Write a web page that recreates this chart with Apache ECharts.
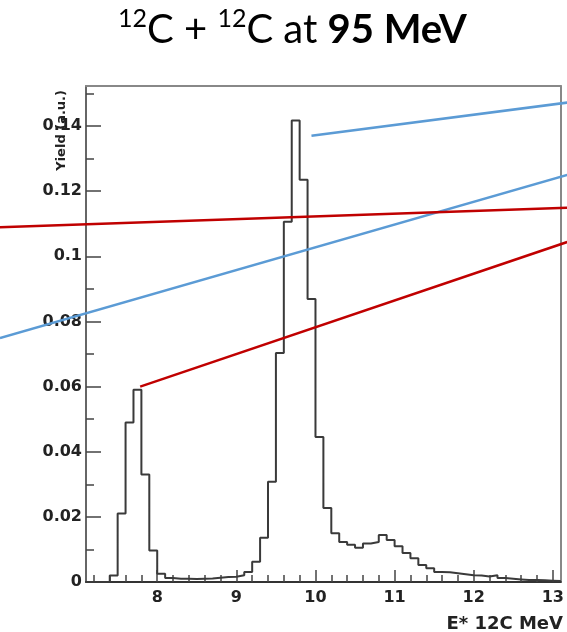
<!DOCTYPE html>
<html>
<head>
<meta charset="utf-8">
<title>12C + 12C at 95 MeV</title>
<script src="https://cdn.jsdelivr.net/npm/echarts@6.0.0/dist/echarts.min.js"></script>
<style>
  html, body { margin: 0; padding: 0; background: #fff; }
  #chart { width: 567px; height: 632px; }
</style>
</head>
<body>
<div id="chart"></div>
<script>
// histogram bin edges (MeV), one more edge than yields
const binEdges = [
  7.1, 7.2, 7.3, 7.4, 7.5, 7.6, 7.7, 7.8, 7.9, 8.0,
  8.1, 8.2, 8.3, 8.4, 8.5, 8.6, 8.7, 8.8, 8.9, 9.0,
  9.1, 9.2, 9.3, 9.4, 9.5, 9.6, 9.7, 9.8, 9.9, 10.0,
  10.1, 10.2, 10.3, 10.4, 10.5, 10.6, 10.7, 10.8, 10.9, 11.0,
  11.1, 11.2, 11.3, 11.4, 11.5, 11.6, 11.7, 11.8, 11.9, 12.0,
  12.1, 12.2, 12.3, 12.4, 12.5, 12.6, 12.7, 12.8, 12.9, 13.0,
  13.1
]
// yield of each bin (a.u.)
const yields = [
  0, 0, 0, 0.002, 0.021, 0.049, 0.059, 0.033, 0.0097, 0.0025,
  0.0012, 0.0010, 0.0010, 0.0009, 0.0010, 0.0011, 0.0013, 0.0015, 0.0016, 0.0021,
  0.0031, 0.0062, 0.0136, 0.0308, 0.0703, 0.1106, 0.1417, 0.1235, 0.0869, 0.0445,
  0.0227, 0.0150, 0.0123, 0.0114, 0.0105, 0.0118, 0.0123, 0.0144, 0.0129, 0.0110,
  0.0089, 0.0073, 0.0052, 0.0042, 0.0031, 0.0030, 0.0027, 0.0024, 0.0021, 0.0020,
  0.0017, 0.0021, 0.0012, 0.0010, 0.0008, 0.0006, 0.0006, 0.0005, 0.0004, 0.0003
]
const xMajorTicks = [8, 9, 10, 11, 12, 13]
const xMinorTicks = [
  7.2, 7.4, 7.6, 7.8, 8.2, 8.4, 8.6, 8.8, 9.2, 9.4, 9.6, 9.8,
  10.2, 10.4, 10.6, 10.8, 11.2, 11.4, 11.6, 11.8, 12.2, 12.4, 12.6, 12.8
]
const yMajorTicks = [0, 0.02, 0.04, 0.06, 0.08, 0.1, 0.12, 0.14]
const yMinorTicks = [0.01, 0.03, 0.05, 0.07, 0.09, 0.11, 0.13, 0.15]

// pointer lines drawn over the slide, in (E*, yield) coordinates
const bluePointerTop = [[9.93, 0.137], [13.14, 0.1472]]
const bluePointerLow = [[6.02, 0.0749], [13.14, 0.125]]
const redPointerTop = [[6.02, 0.1089], [13.14, 0.1149]]
const redPointerLow = [[7.78, 0.06], [13.14, 0.1044]]

const W = 567
const plot = { left: 86, top: 86, right: 3, bottom: 50 }
const xRange = { min: 7.1, max: 13.1 }
const yRange = { min: 0, max: 0.1523 }
// the pointers run to the page edges, so they get a full-width grid
// whose x scale is the plot's scale stretched over the margins
const mevPerPx = (xRange.max - xRange.min) / (W - plot.left - plot.right)
const wideRange = {
  min: xRange.min - plot.left * mevPerPx,
  max: xRange.max + plot.right * mevPerPx
}

const tickFont = { fontFamily: 'DejaVu Sans', fontWeight: 'bold', fontSize: 16, color: '#222' }
const tickLine = { color: '#444', width: 1.5 }

// one axis that only draws a line and/or ticks
const bareAxis = (extra) => Object.assign({
  type: 'value',
  axisLine: { show: false, onZero: false },
  axisTick: { show: false },
  axisLabel: { show: false },
  splitLine: { show: false }
}, extra)

const histData = binEdges.map((e, i) => [e, yields[Math.min(i, yields.length - 1)]])

const pointer = (data, color) => ({
  type: 'line',
  data: data,
  xAxisIndex: 3,
  yAxisIndex: 3,
  symbol: 'none',
  clip: false,
  silent: true,
  z: 4,
  lineStyle: { color: color, width: 2.5 }
})

const chart = echarts.init(document.getElementById('chart'))
chart.setOption({
  animation: false,
  backgroundColor: '#fff',
  title: {
    text: '{sup|12}{n|C + }{sup|12}{n|C at }{b|95 MeV}',
    left: 118,
    top: 6,
    padding: 0,
    textStyle: {
      rich: {
        n: { fontFamily: 'Lato', fontWeight: 'normal', fontSize: 40, lineHeight: 48, color: '#000' },
        b: { fontFamily: 'Lato', fontWeight: 'bold', fontSize: 40, lineHeight: 48, color: '#000' },
        sup: { fontFamily: 'Lato', fontWeight: 'normal', fontSize: 25, lineHeight: 25, verticalAlign: 'top', color: '#000' }
      }
    }
  },
  grid: [
    plot,
    { left: 0, right: 0, top: plot.top, bottom: plot.bottom }
  ],
  xAxis: [
    bareAxis(Object.assign({
      position: 'bottom',
      axisLine: { show: true, onZero: false, lineStyle: { color: '#333', width: 2 } },
      axisTick: { show: true, inside: true, length: 12, customValues: xMajorTicks, lineStyle: tickLine },
      axisLabel: Object.assign({ show: true, margin: 8, customValues: xMajorTicks }, tickFont)
    }, xRange)),
    bareAxis(Object.assign({
      position: 'bottom',
      axisTick: { show: true, inside: true, length: 7, customValues: xMinorTicks, lineStyle: tickLine }
    }, xRange)),
    bareAxis(Object.assign({
      position: 'top',
      axisLine: { show: true, onZero: false, lineStyle: { color: '#888', width: 2 } }
    }, xRange)),
    bareAxis(Object.assign({ gridIndex: 1 }, wideRange))
  ],
  yAxis: [
    bareAxis(Object.assign({
      position: 'left',
      axisLine: { show: true, onZero: false, lineStyle: { color: '#666', width: 2 } },
      axisTick: { show: true, inside: true, length: 15, customValues: yMajorTicks, lineStyle: tickLine },
      axisLabel: Object.assign({ show: true, margin: 4, customValues: yMajorTicks }, tickFont)
    }, yRange)),
    bareAxis(Object.assign({
      position: 'left',
      axisTick: { show: true, inside: true, length: 8, customValues: yMinorTicks, lineStyle: tickLine }
    }, yRange)),
    bareAxis(Object.assign({
      position: 'right',
      axisLine: { show: true, onZero: false, lineStyle: { color: '#888', width: 2 } }
    }, yRange)),
    bareAxis(Object.assign({ gridIndex: 1 }, yRange))
  ],
  graphic: [
    {
      type: 'text',
      right: 4,
      top: 615,
      style: { text: 'E* 12C MeV', font: 'bold 18px "DejaVu Sans"', fill: '#222' }
    },
    {
      type: 'text',
      x: 62,
      y: 90,
      rotation: Math.PI / 2,
      style: { text: 'Yield (a.u.)', font: 'bold 13px "DejaVu Sans"', fill: '#222', align: 'right', verticalAlign: 'middle' }
    }
  ],
  series: [
    {
      type: 'line',
      step: 'end',
      data: histData,
      symbol: 'none',
      silent: true,
      z: 3,
      lineStyle: { color: '#3a3a3a', width: 2 }
    },
    pointer(bluePointerTop, '#5b9bd5'),
    pointer(bluePointerLow, '#5b9bd5'),
    pointer(redPointerTop, '#c00000'),
    pointer(redPointerLow, '#c00000')
  ]
})
</script>
</body>
</html>
